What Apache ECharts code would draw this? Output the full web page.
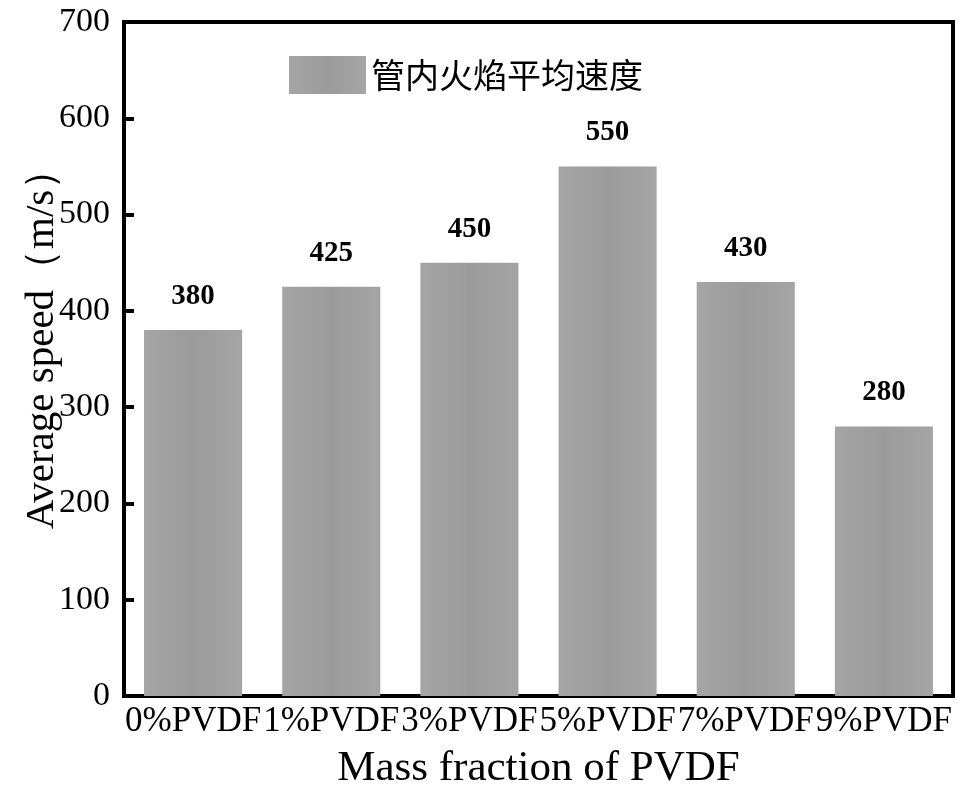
<!DOCTYPE html>
<html>
<head>
<meta charset="utf-8">
<script src="https://cdn.jsdelivr.net/npm/echarts@6/dist/echarts.min.js"></script>
<style>
  html, body { margin: 0; padding: 0; background: #fff; }
</style>
</head>
<body>
<div id="chart" style="width: 964px; height: 803px"></div>
<script>
const categories = ["0%PVDF", "1%PVDF", "3%PVDF", "5%PVDF", "7%PVDF", "9%PVDF"];
const speeds = [380, 425, 450, 550, 430, 280];
const seriesName = "管内火焰平均速度";

const serif = "'Liberation Serif', 'Times New Roman', serif";
const barColor = new echarts.graphic.LinearGradient(0, 0, 1, 0, [
  { offset: 0, color: "#a5a5a5" },
  { offset: 0.5, color: "#9b9b9b" },
  { offset: 1, color: "#a5a5a5" },
]);

let myChart = echarts.init(document.getElementById("chart"));
myChart.setOption({
  animation: false,
  grid: {
    left: 124,
    right: 11,
    top: 22,
    bottom: 107,
    show: true,
    borderColor: "#000",
    borderWidth: 4,
  },
  legend: {
    data: [{ name: seriesName, icon: "rect" }],
    left: 284,
    top: 51,
    itemWidth: 77,
    itemHeight: 38,
    itemGap: 10,
    textStyle: {
      fontSize: 34,
      color: "#000",
      fontFamily: "'Noto Sans CJK SC', sans-serif",
    },
  },
  xAxis: {
    type: "category",
    data: categories,
    name: "Mass fraction of PVDF",
    nameLocation: "middle",
    nameGap: 51,
    nameMoveOverlap: false,
    nameTextStyle: { fontSize: 43, color: "#000", fontFamily: serif },
    axisLine: { lineStyle: { color: "#000", width: 4 } },
    axisTick: { show: false },
    axisLabel: {
      interval: 0,
      fontSize: 35,
      color: "#000",
      fontFamily: serif,
      margin: 8,
    },
  },
  yAxis: {
    type: "value",
    min: 0,
    max: 700,
    interval: 100,
    name: "Average speed（m/s）",
    nameLocation: "middle",
    nameGap: 61,
    nameMoveOverlap: false,
    nameTextStyle: {
      fontSize: 41,
      color: "#000",
      fontFamily: serif,
      padding: [0, 0, 0, 40],
    },
    axisLine: { show: true, lineStyle: { color: "#000", width: 4 } },
    axisTick: { show: true, inside: true, length: 10, lineStyle: { color: "#000", width: 4 } },
    splitLine: { show: false },
    axisLabel: { fontSize: 34, color: "#000", fontFamily: serif, margin: 14 },
  },
  series: [
    {
      name: seriesName,
      type: "bar",
      data: speeds,
      barWidth: "71%",
      itemStyle: { color: barColor },
      label: {
        show: true,
        position: "top",
        distance: 19,
        fontSize: 29,
        fontWeight: "bold",
        color: "#000",
        fontFamily: serif,
      },
    },
  ],
});
</script>
</body>
</html>
